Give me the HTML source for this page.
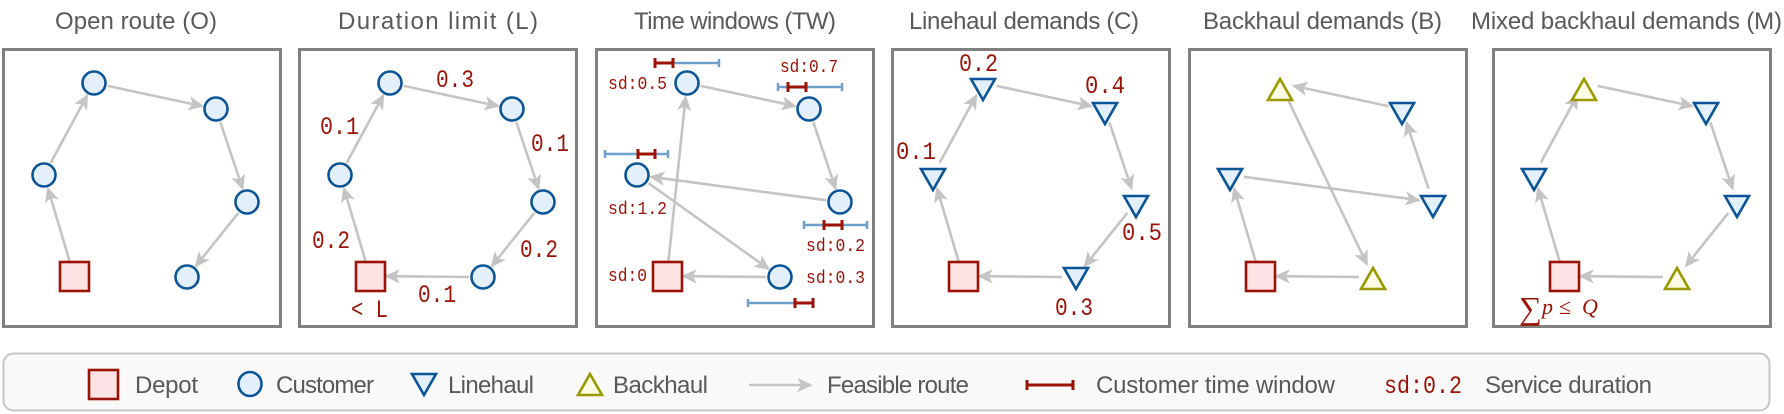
<!DOCTYPE html>
<html><head><meta charset="utf-8"><style>
html,body{margin:0;padding:0;background:#fff;}
svg{display:block;}
.t{font-family:"Liberation Sans",sans-serif;font-size:24px;fill:#595959;}
.m{font-family:"Liberation Mono",monospace;font-size:25px;fill:#9b1206;}
.s{font-family:"Liberation Mono",monospace;font-size:18px;fill:#9b1206;}
.box{fill:#fff;stroke:#808080;stroke-width:3;}
.e{stroke:#c4c4c4;stroke-width:2.6;fill:none;marker-end:url(#ah);}
.c{fill:#e3f0fb;stroke:#0b5597;stroke-width:2.6;}
.d{fill:#fde4e4;stroke:#9b1206;stroke-width:2.6;}
.l{fill:#e3f0fb;stroke:#0b5597;stroke-width:2.6;stroke-linejoin:miter;}
.b{fill:#fdfde3;stroke:#9a9a00;stroke-width:2.6;}
.bw{stroke:#6fa0cc;stroke-width:2.5;fill:none;}
.rw{stroke:#9b1206;stroke-width:3;fill:none;}
</style></head><body>
<svg width="1784" height="414" viewBox="0 0 1784 414" xmlns="http://www.w3.org/2000/svg">
<defs>
<marker id="ah" markerUnits="userSpaceOnUse" markerWidth="16" markerHeight="14" refX="1" refY="0" viewBox="-13 -7 16 14" orient="auto">
<path d="M1,0 L-11,-5.5 L-8,0 L-11,5.5 Z" stroke="#c4c4c4" stroke-width="1.5" fill="#c4c4c4"/>
</marker>
</defs>

<text class="t" x="55" y="29" textLength="162">Open route (O)</text>
<text class="t" x="338" y="29" textLength="200">Duration limit (L)</text>
<text class="t" x="634" y="29" textLength="202">Time windows (TW)</text>
<text class="t" x="909" y="29" textLength="230">Linehaul demands (C)</text>
<text class="t" x="1203" y="29" textLength="239">Backhaul demands (B)</text>
<text class="t" x="1471" y="29" textLength="311">Mixed backhaul demands (M)</text>

<g transform="translate(2,0)">
<rect class="box" x="1.5" y="49.5" width="277" height="277"/>
<line class="e" x1="67.7" y1="261.6" x2="46" y2="188.4"/>
<line class="e" x1="48.7" y1="162.7" x2="85.3" y2="95.3"/>
<line class="e" x1="105.7" y1="85.9" x2="200.3" y2="106.1"/>
<line class="e" x1="218.4" y1="122.3" x2="240.6" y2="188.7"/>
<line class="e" x1="236.3" y1="212.9" x2="193.8" y2="266.1"/>
<circle class="c" cx="92" cy="83" r="11.5"/>
<circle class="c" cx="214" cy="109" r="11.5"/>
<circle class="c" cx="42" cy="175" r="11.5"/>
<circle class="c" cx="245" cy="202" r="11.5"/>
<circle class="c" cx="185" cy="277" r="11.5"/>
<rect class="d" x="58" y="262" width="29" height="29"/>
</g>

<g transform="translate(298,0)">
<rect class="box" x="1.5" y="49.5" width="277" height="277"/>
<line class="e" x1="67.7" y1="261.6" x2="46" y2="188.4"/>
<line class="e" x1="48.7" y1="162.7" x2="85.3" y2="95.3"/>
<line class="e" x1="105.7" y1="85.9" x2="200.3" y2="106.1"/>
<line class="e" x1="218.4" y1="122.3" x2="240.6" y2="188.7"/>
<line class="e" x1="236.3" y1="212.9" x2="193.8" y2="266.1"/>
<line class="e" x1="171" y1="277" x2="88" y2="276.2"/>
<circle class="c" cx="92" cy="83" r="11.5"/>
<circle class="c" cx="214" cy="109" r="11.5"/>
<circle class="c" cx="42" cy="175" r="11.5"/>
<circle class="c" cx="245" cy="202" r="11.5"/>
<circle class="c" cx="185" cy="277" r="11.5"/>
<rect class="d" x="58" y="262" width="29" height="29"/>
</g>
<text class="m" x="436" y="87" textLength="38" lengthAdjust="spacingAndGlyphs">0.3</text>
<text class="m" x="320" y="134" textLength="39" lengthAdjust="spacingAndGlyphs">0.1</text>
<text class="m" x="531" y="151" textLength="38" lengthAdjust="spacingAndGlyphs">0.1</text>
<text class="m" x="312" y="248" textLength="38" lengthAdjust="spacingAndGlyphs">0.2</text>
<text class="m" x="520" y="257" textLength="38" lengthAdjust="spacingAndGlyphs">0.2</text>
<text class="m" x="418" y="302" textLength="38" lengthAdjust="spacingAndGlyphs">0.1</text>
<text class="m" x="351" y="317" textLength="37" lengthAdjust="spacingAndGlyphs">&lt; L</text>

<g transform="translate(595,0)">
<rect class="box" x="1.5" y="49.5" width="277" height="277"/>
<line class="e" x1="73.5" y1="261" x2="90.6" y2="96.9"/>
<line class="e" x1="105.7" y1="85.9" x2="200.3" y2="106.1"/>
<line class="e" x1="218.4" y1="122.3" x2="240.6" y2="188.7"/>
<line class="e" x1="231.1" y1="200.2" x2="55.9" y2="176.8"/>
<line class="e" x1="53.4" y1="183.1" x2="173.6" y2="268.9"/>
<line class="e" x1="171" y1="277" x2="88" y2="276.2"/>
<circle class="c" cx="92" cy="83" r="11.5"/>
<circle class="c" cx="214" cy="109" r="11.5"/>
<circle class="c" cx="42" cy="175" r="11.5"/>
<circle class="c" cx="245" cy="202" r="11.5"/>
<circle class="c" cx="185" cy="277" r="11.5"/>
<rect class="d" x="58" y="262" width="29" height="29"/>
</g>
<text class="s" x="608" y="89" textLength="59" lengthAdjust="spacingAndGlyphs">sd:0.5</text>
<text class="s" x="780" y="72" textLength="58" lengthAdjust="spacingAndGlyphs">sd:0.7</text>
<text class="s" x="608" y="214" textLength="59" lengthAdjust="spacingAndGlyphs">sd:1.2</text>
<text class="s" x="806" y="251" textLength="59" lengthAdjust="spacingAndGlyphs">sd:0.2</text>
<text class="s" x="608" y="281" textLength="39" lengthAdjust="spacingAndGlyphs">sd:0</text>
<text class="s" x="806" y="283" textLength="59" lengthAdjust="spacingAndGlyphs">sd:0.3</text>
<path class="bw" d="M673,63 H719 M719,59 V67"/>
<path class="rw" d="M655,63 H673 M655,58 V68 M673,58 V68"/>
<path class="bw" d="M778,87 H842 M778,83 V91 M842,83 V91"/>
<path class="rw" d="M788,87 H806 M788,82 V92 M806,82 V92"/>
<path class="bw" d="M605,154 H668 M605,150 V158 M668,150 V158"/>
<path class="rw" d="M638,154 H655 M638,149 V159 M655,149 V159"/>
<path class="bw" d="M804,225 H867 M804,221 V229 M867,221 V229"/>
<path class="rw" d="M824,225 H842 M824,220 V230 M842,220 V230"/>
<path class="bw" d="M748,303 H795 M748,299 V307"/>
<path class="rw" d="M795,303 H813 M795,298 V308 M813,298 V308"/>

<g transform="translate(891,0)">
<rect class="box" x="1.5" y="49.5" width="277" height="277"/>
<line class="e" x1="67.7" y1="261.6" x2="46" y2="188.4"/>
<line class="e" x1="48.7" y1="162.7" x2="85.3" y2="95.3"/>
<line class="e" x1="105.7" y1="85.9" x2="200.3" y2="106.1"/>
<line class="e" x1="218.4" y1="122.3" x2="240.6" y2="188.7"/>
<line class="e" x1="236.3" y1="212.9" x2="193.8" y2="266.1"/>
<line class="e" x1="171" y1="277" x2="88" y2="276.2"/>
<polygon class="l" points="80,79 104,79 92,100"/>
<polygon class="l" points="202,103 226,103 214,124"/>
<polygon class="l" points="30,169 54,169 42,190"/>
<polygon class="l" points="233,196 257,196 245,217"/>
<polygon class="l" points="173,268 197,268 185,289"/>
<rect class="d" x="58" y="262" width="29" height="29"/>
</g>
<text class="m" x="959" y="71" textLength="39" lengthAdjust="spacingAndGlyphs">0.2</text>
<text class="m" x="1085" y="93" textLength="40" lengthAdjust="spacingAndGlyphs">0.4</text>
<text class="m" x="896" y="159" textLength="40" lengthAdjust="spacingAndGlyphs">0.1</text>
<text class="m" x="1122" y="240" textLength="40" lengthAdjust="spacingAndGlyphs">0.5</text>
<text class="m" x="1055" y="315" textLength="38" lengthAdjust="spacingAndGlyphs">0.3</text>

<g transform="translate(1188,0)">
<rect class="box" x="1.5" y="49.5" width="277" height="277"/>
<line class="e" x1="67.7" y1="261.6" x2="46" y2="188.4"/>
<line class="e" x1="55.9" y1="176.8" x2="231.1" y2="200.2"/>
<line class="e" x1="240.6" y1="188.7" x2="218.4" y2="122.3"/>
<line class="e" x1="200.3" y1="106.1" x2="105.7" y2="85.9"/>
<line class="e" x1="98" y1="95.6" x2="179" y2="264.4"/>
<line class="e" x1="171" y1="277" x2="88" y2="276.2"/>
<polygon class="b" points="80,100 104,100 92,79"/>
<polygon class="l" points="202,103 226,103 214,124"/>
<polygon class="l" points="30,169 54,169 42,190"/>
<polygon class="l" points="233,196 257,196 245,217"/>
<polygon class="b" points="173,289 197,289 185,268"/>
<rect class="d" x="58" y="262" width="29" height="29"/>
</g>

<g transform="translate(1492,0)">
<rect class="box" x="1.5" y="49.5" width="277" height="277"/>
<line class="e" x1="67.7" y1="261.6" x2="46" y2="188.4"/>
<line class="e" x1="48.7" y1="162.7" x2="85.3" y2="95.3"/>
<line class="e" x1="105.7" y1="85.9" x2="200.3" y2="106.1"/>
<line class="e" x1="218.4" y1="122.3" x2="240.6" y2="188.7"/>
<line class="e" x1="236.3" y1="212.9" x2="193.8" y2="266.1"/>
<line class="e" x1="171" y1="277" x2="88" y2="276.2"/>
<polygon class="b" points="80,100 104,100 92,79"/>
<polygon class="l" points="202,103 226,103 214,124"/>
<polygon class="l" points="30,169 54,169 42,190"/>
<polygon class="l" points="233,196 257,196 245,217"/>
<polygon class="b" points="173,289 197,289 185,268"/>
<rect class="d" x="58" y="262" width="29" height="29"/>
</g>
<text x="1519" y="319" style="font-family:'Liberation Serif',serif;font-size:32px;fill:#9b1206">∑</text>
<text x="1542" y="314" style="font-family:'Liberation Serif',serif;font-size:22px;font-style:italic;fill:#9b1206">p</text>
<text x="1559" y="314" style="font-family:'Liberation Serif',serif;font-size:22px;fill:#9b1206">≤</text>
<text x="1582" y="314" style="font-family:'Liberation Serif',serif;font-size:22px;font-style:italic;fill:#9b1206">Q</text>

<rect x="3.5" y="353.5" width="1766" height="57" rx="10" ry="10" fill="#f9f9f9" stroke="#c6c6c6" stroke-width="2"/>
<rect class="d" x="89" y="370" width="29" height="29"/>
<text class="t" x="135" y="393" textLength="63">Depot</text>
<ellipse class="c" cx="250" cy="384" rx="11.5" ry="12"/>
<text class="t" x="276" y="393" textLength="98">Customer</text>
<polygon class="l" points="412,374 436,374 424,395"/>
<text class="t" x="448" y="393" textLength="86">Linehaul</text>
<polygon class="b" points="578,395 602,395 590,374"/>
<text class="t" x="613" y="393" textLength="95">Backhaul</text>
<line class="e" x1="749" y1="385" x2="811" y2="385"/>
<text class="t" x="827" y="393" textLength="142">Feasible route</text>
<path class="rw" d="M1027,385 H1073 M1027,380 V390 M1073,380 V390"/>
<text class="t" x="1096" y="393" textLength="239">Customer time window</text>
<text class="m" x="1384" y="393" textLength="78" lengthAdjust="spacingAndGlyphs">sd:0.2</text>
<text class="t" x="1485" y="393" textLength="167">Service duration</text>
</svg>
</body></html>
